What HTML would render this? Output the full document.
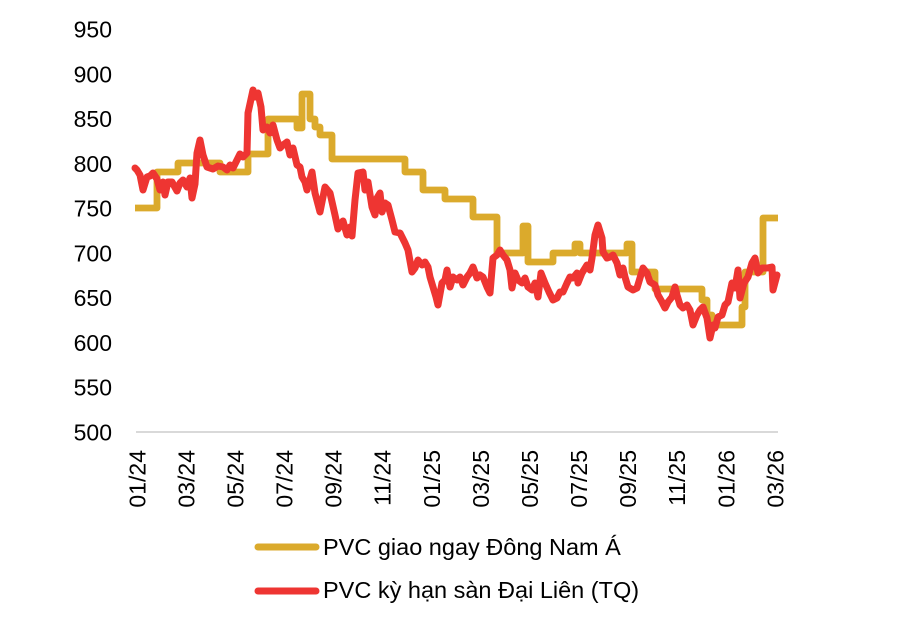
<!DOCTYPE html>
<html><head><meta charset="utf-8"><style>
html,body{margin:0;padding:0;background:#fff;}
svg{display:block;}
text{font-family:"Liberation Sans","DejaVu Sans",sans-serif;fill:#000;}
</style></head><body>
<svg width="922" height="622" viewBox="0 0 922 622" xmlns="http://www.w3.org/2000/svg">
<rect width="922" height="622" fill="#fff"/>
<g font-size="23" text-anchor="end">
<text x="112" y="37.5">950</text>
<text x="112" y="82.3">900</text>
<text x="112" y="127.1">850</text>
<text x="112" y="171.8">800</text>
<text x="112" y="216.6">750</text>
<text x="112" y="261.4">700</text>
<text x="112" y="306.2">650</text>
<text x="112" y="351">600</text>
<text x="112" y="395.7">550</text>
<text x="112" y="440.5">500</text>
</g>
<line x1="136" y1="432" x2="778" y2="432" stroke="#d9d9d9" stroke-width="2"/>
<g font-size="23" text-anchor="end">
<text transform="translate(145.3,450) rotate(-90)">01/24</text>
<text transform="translate(194.4,450) rotate(-90)">03/24</text>
<text transform="translate(243.5,450) rotate(-90)">05/24</text>
<text transform="translate(292.5,450) rotate(-90)">07/24</text>
<text transform="translate(341.6,450) rotate(-90)">09/24</text>
<text transform="translate(390.7,450) rotate(-90)">11/24</text>
<text transform="translate(439.8,450) rotate(-90)">01/25</text>
<text transform="translate(488.9,450) rotate(-90)">03/25</text>
<text transform="translate(538,450) rotate(-90)">05/25</text>
<text transform="translate(587,450) rotate(-90)">07/25</text>
<text transform="translate(636.1,450) rotate(-90)">09/25</text>
<text transform="translate(685.2,450) rotate(-90)">11/25</text>
<text transform="translate(734.3,450) rotate(-90)">01/26</text>
<text transform="translate(783.3,450) rotate(-90)">03/26</text>
</g>
<path fill="none" stroke="#dbaa2c" stroke-width="6.8" stroke-linejoin="round" stroke-linecap="butt"
d="M135,208 H157 V172 H178 V163 H220 V172 H248 V154 H268 V119 H297 V128 H302 V94 H310 V119 H315 V127 H320 V135 H332 V159 H405 V172 H423 V190 H445 V199 H473 V217 H497 V253 H523 V226 H528 V262 H553 V253 H575 V244 H580 V253 H627 V244 H632 V272 H655 V289 H702 V300 H707 V315 H712 V325 H742 V307 H745 V272 H763 V218 H778"/>
<polyline fill="none" stroke="#ee3532" stroke-width="7" stroke-linejoin="round" stroke-linecap="round"
points="135,168 137,170 140,175 143,190 147,177 150,176 153,173 157,179 160,190 163,182 165,195 168,182 172,182 177,191 180,183 183,180 187,187 190,178 192,198 195,184 197,153 200,140 203,155 207,167 213,169 218,166 223,167 227,170 230,165 233,168 237,160 240,154 243,157 247,153 248,113 253,90 255,97 258,93 261,107 263,130 267,127 270,133 273,125 277,140 280,148 283,145 287,142 290,155 293,148 297,165 300,167 302,177 305,182 307,190 312,172 315,193 320,212 325,187 330,193 335,215 338,229 343,221 347,235 350,227 352,236 355,200 358,173 363,172 365,190 368,182 372,207 375,215 377,198 380,193 382,212 385,203 388,205 392,220 395,232 400,233 405,243 408,250 412,272 415,268 418,260 422,265 425,262 428,267 430,277 433,287 436,297 438,305 442,283 445,280 447,270 450,287 453,277 457,280 460,277 463,285 467,277 470,273 473,267 477,278 480,275 483,277 487,287 490,293 493,258 497,255 500,250 503,255 507,260 510,270 512,288 515,273 518,280 522,283 525,278 528,287 532,290 535,283 538,297 541,273 545,283 549,292 553,300 557,298 560,292 563,292 567,283 570,277 573,278 577,273 578,283 582,273 587,265 590,270 592,258 595,235 598,225 602,238 603,252 607,258 610,257 613,255 617,263 620,275 623,268 625,277 628,287 633,290 637,288 640,278 643,268 647,273 650,282 655,285 658,295 662,302 665,308 668,302 672,297 675,287 677,295 680,305 683,308 687,305 690,310 693,325 697,315 700,310 703,307 707,318 710,338 713,325 715,328 718,317 722,315 725,305 728,302 732,283 735,288 738,270 740,298 744,283 748,277 752,263 755,258 758,273 762,268 767,268 772,267 773,290 777,275"/>
<line x1="258" y1="547" x2="316" y2="547" stroke="#dbaa2c" stroke-width="7" stroke-linecap="round"/>
<line x1="258" y1="591" x2="316" y2="591" stroke="#ee3532" stroke-width="7" stroke-linecap="round"/>
<g font-size="23.5">
<text x="323" y="555">PVC giao ngay Đông Nam Á</text>
<text x="323" y="598">PVC kỳ hạn sàn Đại Liên (TQ)</text>
</g>
</svg>
</body></html>
